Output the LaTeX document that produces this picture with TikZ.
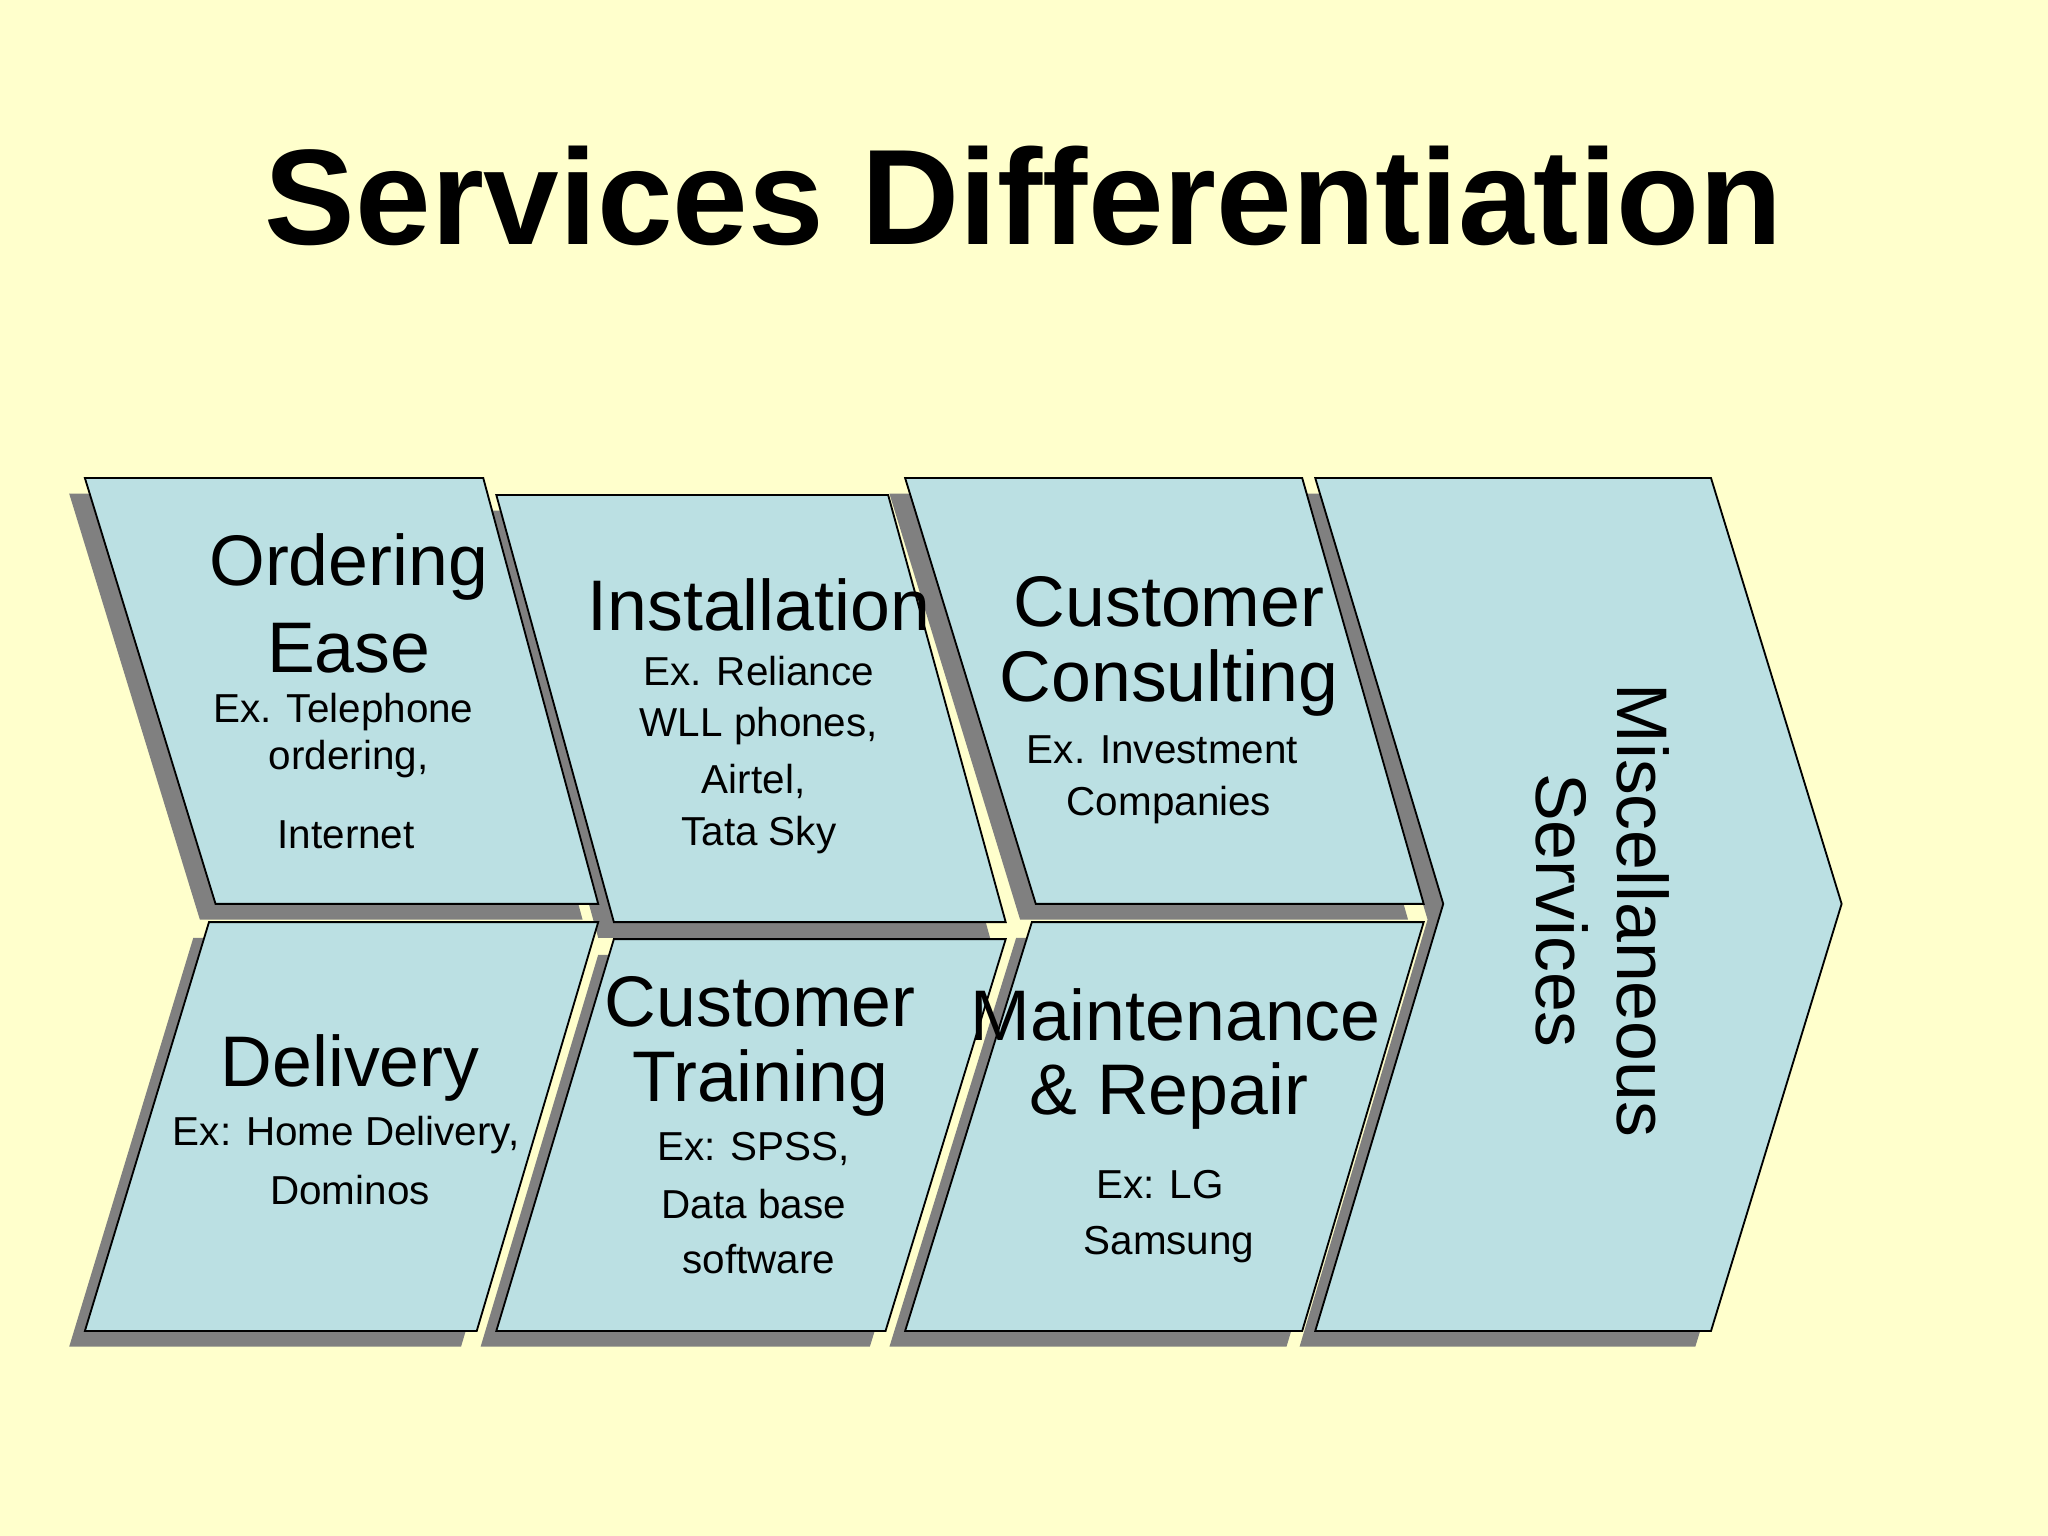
\documentclass[tikz,border=0pt]{standalone}
\usepackage{fontspec}
\setmainfont{Liberation Sans}
\begin{document}
\begin{tikzpicture}[x=0.0125cm,y=-0.0125cm,
  blk/.style={fill=boxblue,draw=black,line width=0.5pt},
  shd/.style={fill=shadowgray},
  big/.style={font=\fontsize{19.5}{22}\selectfont,anchor=center,inner sep=0pt},
  sml/.style={font=\fontsize{11}{13}\selectfont,anchor=center,inner sep=0pt}]
\definecolor{bg}{HTML}{FFFFCC}
\definecolor{boxblue}{HTML}{BBE0E3}
\definecolor{shadowgray}{HTML}{808080}
\fill[bg] (0,0) rectangle (1568,1176);
\useasboundingbox (0,0) rectangle (1568,1176);
\node[font=\fontsize{37}{40}\selectfont\bfseries,inner sep=0pt] (title) at (784,150) {Services Differentiation};
% shadows
\foreach \p in {
 {(65,366)--(370,366)--(458,692)--(165,692)--cycle},
 {(160,706)--(458,706)--(365,1019)--(65,1019)--cycle},
 {(380,379)--(680,379)--(770,706)--(470,706)--cycle},
 {(470,719)--(770,719)--(678,1019)--(380,1019)--cycle},
 {(693,366)--(997,366)--(1090,692)--(793,692)--cycle},
 {(790,706)--(1090,706)--(997,1019)--(693,1019)--cycle},
 {(1007,366)--(1310,366)--(1410,692)--(1310,1019)--(1007,1019)--(1105,692)--cycle}}
{\fill[shd,shift={(-12,12)}] \p;}
\draw[blk] (65,366)--(370,366)--(458,692)--(165,692)--cycle;
\draw[blk] (160,706)--(458,706)--(365,1019)--(65,1019)--cycle;
\draw[blk] (380,379)--(680,379)--(770,706)--(470,706)--cycle;
\draw[blk] (470,719)--(770,719)--(678,1019)--(380,1019)--cycle;
\draw[blk] (693,366)--(997,366)--(1090,692)--(793,692)--cycle;
\draw[blk] (790,706)--(1090,706)--(997,1019)--(693,1019)--cycle;
\draw[blk] (1007,366)--(1310,366)--(1410,692)--(1310,1019)--(1007,1019)--(1105,692)--cycle;
% texts
\node[big] (a1) at (267,434) {Ordering};
\node[big] (a2) at (267,496) {Ease};
\node[sml] (a3) at (263,545) {Ex. Telephone};
\node[sml] (a4) at (267,581) {ordering,};
\node[sml] (a5) at (265,639) {Internet};
\node[big] (b1) at (581,463) {Installation};
\node[sml] (b2) at (581,514) {Ex. Reliance};
\node[sml] (b3) at (581,556) {WLL phones,};
\node[sml] (b4) at (577,598) {Airtel,};
\node[sml] (b5) at (581,639) {Tata Sky};
\node[big] (c1) at (895,461) {Customer};
\node[big] (c2) at (895,523) {Consulting};
\node[sml] (c3) at (890,574) {Ex. Investment};
\node[sml] (c4) at (895,616) {Companies};
\node[big] (d1) at (268,818) {Delivery};
\node[sml] (d2) at (265,869) {Ex: Home Delivery,};
\node[sml] (d3) at (268,911) {Dominos};
\node[big] (e1) at (582,767) {Customer};
\node[big] (e2) at (582,829) {Training};
\node[sml] (e3) at (577,880) {Ex: SPSS,};
\node[sml] (e4) at (577,922) {Data base};
\node[sml] (e5) at (581,964) {software};
\node[big] (f1) at (900,777) {Maintenance};
\node[big] (f2) at (895,839) {\&\ Repair};
\node[sml] (f3) at (888,907) {Ex: LG};
\node[sml] (f4) at (895,953) {Samsung};
\node[big,rotate=-90] (g1) at (1258,697) {Miscellaneous};
\node[big,rotate=-90] (g2) at (1196,697) {Services};
\end{tikzpicture}
\end{document}
